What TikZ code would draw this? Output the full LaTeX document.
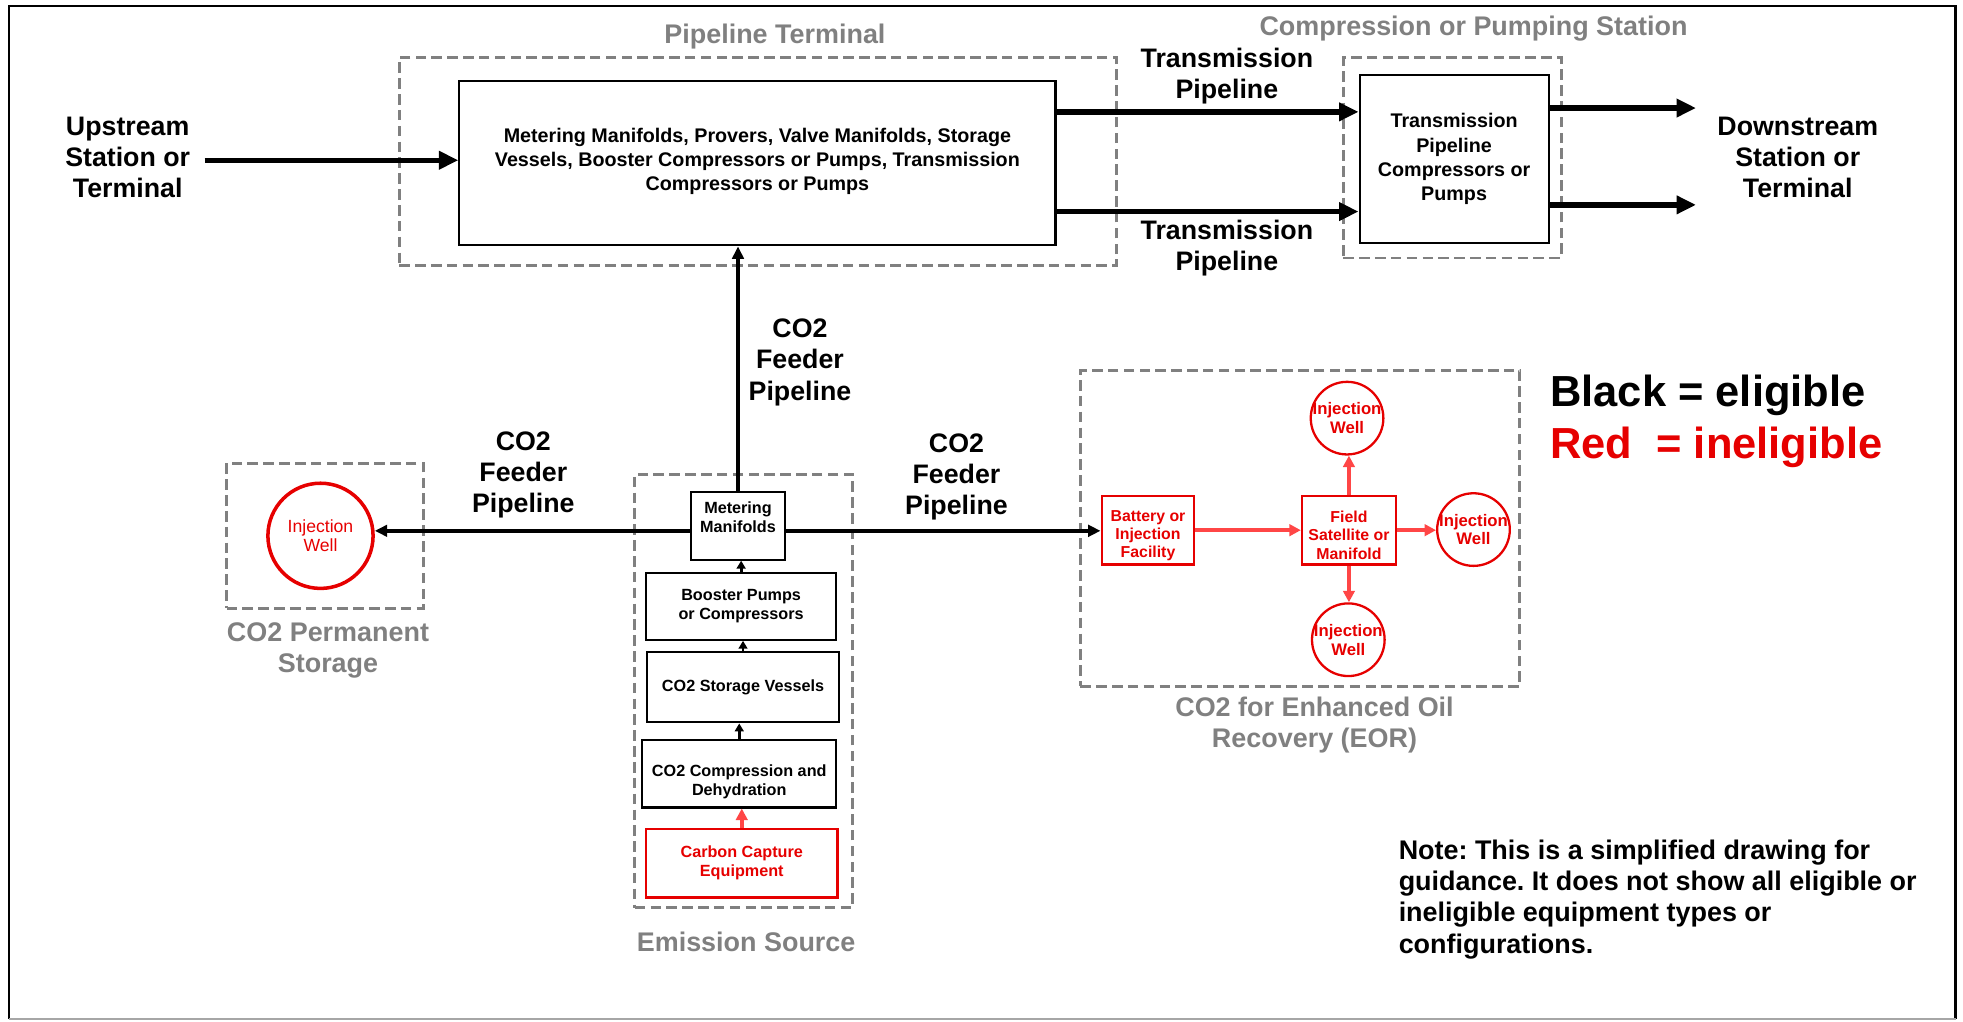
\documentclass[tikz,border=0pt]{standalone}
\usepackage{fontspec}
\setmainfont{Liberation Sans}
\usetikzlibrary{arrows.meta,calc}

\definecolor{grayline}{RGB}{128,128,128}
\definecolor{ineligred}{RGB}{230,0,0}
\definecolor{redarrowc}{RGB}{255,70,70}

\begin{document}
\frenchspacing
\begin{tikzpicture}[x=0.025cm, y=-0.025cm,
  box/.style={draw, line width=1.2pt, align=center, inner sep=1pt},
  redbox/.style={box, draw=ineligred, text=ineligred, line width=1.3pt},
  groupbox/.style={draw=grayline, line width=1.6pt, dash pattern=on 6pt off 3pt},
  grouptitle/.style={text=grayline, align=center, inner sep=2pt, font=\fontsize{15.3}{17.7}\selectfont\bfseries},
  flowtext/.style={align=center, inner sep=2pt, font=\fontsize{15.2}{17.7}\selectfont\bfseries},
  smalltext/.style={font=\fontsize{9.2}{10.8}\selectfont\bfseries},
  eortext/.style={font=\fontsize{9}{10.3}\selectfont\bfseries},
  well/.style={circle, draw=ineligred, text=ineligred, line width=1.3pt, align=center, inner sep=-2pt, minimum size=1.45cm, font=\fontsize{9.5}{10.6}\selectfont\bfseries},
  mainarrow/.style={-{Triangle[length=11pt,width=10pt]}, line width=3pt},
  feedarrow/.style={-{Triangle[length=7pt,width=6.5pt]}, line width=2pt},
  steparrow/.style={-{Triangle[length=4.5pt,width=5pt]}, line width=1.6pt},
  redarrow/.style={-{Triangle[length=6.5pt,width=6.5pt]}, line width=2pt, draw=redarrowc},
]
\useasboundingbox (0,0) rectangle (1568,816);

% Frame
\draw[line width=1.3pt] (7,814) -- (7,5) -- (1562,5) -- (1562,814);
\draw[line width=1pt, black!35] (7,814) -- (1562,814);

% Pipeline terminal
\node[groupbox, minimum width=14.325cm, minimum height=4.15cm] (termgroup) at (605.5,129) {};
\node[grouptitle] (termtitle) at (619,29) {Pipeline Terminal};
\node[box, minimum width=11.9cm, minimum height=3.275cm, font=\fontsize{11.2}{13.8}\selectfont\bfseries] (termbox) at (605,130.5) {
  Metering Manifolds, Provers, Valve Manifolds, Storage\\
  Vessels, Booster Compressors or Pumps, Transmission\\
  Compressors or Pumps\\[-9pt]};

% Compression or pumping station
\node[groupbox, minimum width=4.35cm, minimum height=4cm] (compgroup) at (1160,126) {};
\node[grouptitle] (comptitle) at (1177,23) {Compression or Pumping Station};
\node[box, minimum width=3.775cm, minimum height=3.35cm, font=\fontsize{11.2}{13.7}\selectfont\bfseries] (compbox) at (1161.5,127) {Transmission\\Pipeline\\Compressors or\\Pumps};

% Upstream / downstream
\node[flowtext] (upstream) at (102,126) {Upstream\\Station or\\Terminal};
\node[flowtext] (downstream) at (1436,126) {Downstream\\Station or\\Terminal};
\node[flowtext] (translabA) at (980,61) {Transmission\\Pipeline};
\node[flowtext] (translabB) at (980,198) {Transmission\\Pipeline};

% Emission source
\node[groupbox, minimum width=4.35cm, minimum height=8.65cm] (emisgroup) at (594,552) {};
\node[grouptitle] (emistitle) at (596,752) {Emission Source};
\node[box, smalltext, minimum width=1.875cm, minimum height=1.35cm] (meter) at (589.5,420) {Metering\\Manifolds\\[-1pt]};
\node[box, smalltext, minimum width=3.8cm, minimum height=1.325cm] (booster) at (592,484.5) {Booster Pumps\\or Compressors};
\node[box, smalltext, minimum width=3.825cm, minimum height=1.4cm] (storage) at (593.5,549) {CO2 Storage Vessels};
\node[box, smalltext, minimum width=3.875cm, minimum height=1.35cm] (compress) at (590.5,618) {\\[5pt]CO2 Compression and\\Dehydration};
\node[redbox, smalltext, minimum width=3.825cm, minimum height=1.375cm] (capture) at (592.5,689.5) {Carbon Capture\\Equipment};

% CO2 permanent storage
\node[groupbox, minimum width=3.925cm, minimum height=2.9cm] (storegroup) at (259.5,428) {};
\node[grouptitle] (storetitle) at (262,519.5) {CO2 Permanent\\Storage};
\node[well, line width=2pt, minimum size=2.1cm, font=\fontsize{10}{10.6}\selectfont] (storewell) at (256,428) {Injection\\Well};

% Enhanced oil recovery
\node[groupbox, minimum width=8.775cm, minimum height=6.3cm] (eorgroup) at (1038.5,422) {};
\node[grouptitle] (eortitle) at (1050,579) {CO2 for Enhanced Oil\\Recovery (EOR)};
\node[redbox, eortext, minimum width=1.85cm, minimum height=1.375cm] (battery) at (917,423.5) {\\[2pt]Battery or\\Injection\\Facility};
\node[redbox, eortext, minimum width=1.875cm, minimum height=1.375cm] (field) at (1077.5,423.5) {\\[2pt]Field\\Satellite or\\Manifold};
\node[well] (wellN) at (1076,334) {Injection\\Well};
\node[well] (wellE) at (1177,423) {Injection\\Well};
\node[well] (wellS) at (1077,511) {Injection\\Well};

% Feeder labels
\node[flowtext] (feedUp) at (639,289.5) {CO2\\Feeder\\Pipeline};
\node[flowtext] (feedLeft) at (418,379.5) {CO2\\Feeder\\Pipeline};
\node[flowtext] (feedRight) at (764,381) {CO2\\Feeder\\Pipeline};

% Legend and note
\node[anchor=base west, inner sep=0pt, font=\fontsize{24.7}{28}\selectfont\bfseries] (legBlack) at (1238,325) {Black = eligible};
\node[anchor=base west, inner sep=0pt, text=ineligred, font=\fontsize{24.7}{28}\selectfont\bfseries] (legRed) at (1238,366) {Red~ = ineligible};
\node[anchor=west, align=left, inner sep=0pt, font=\fontsize{15.3}{17.7}\selectfont\bfseries] (note) at (1117,718.5) {Note: This is a simplified drawing for\\guidance. It does not show all eligible or\\ineligible equipment types or\\configurations.};

% Points on the box sides
\coordinate (tpA) at ($(termbox.north east)!0.19!(termbox.south east)$);
\coordinate (tpB) at ($(termbox.north east)!0.79!(termbox.south east)$);
\coordinate (cpA) at ($(compbox.north east)!0.2!(compbox.south east)$);
\coordinate (cpB) at ($(compbox.north east)!0.77!(compbox.south east)$);
\coordinate (mWest) at ([yshift=-0.1cm]meter.west);
\coordinate (mEast) at ([yshift=-0.1cm]meter.east);

% Main arrows
\draw[mainarrow, shorten <=6pt] ([yshift=-0.05cm]upstream.east) -- ([yshift=-0.05cm]upstream.east -| termbox.west);
\draw[mainarrow] (tpA) -- (tpA -| compbox.west);
\draw[mainarrow] (tpB) -- (tpB -| compbox.west);
\draw[mainarrow, shorten >=10pt] (cpA) -- (cpA -| downstream.west);
\draw[mainarrow, shorten >=10pt] (cpB) -- (cpB -| downstream.west);

% Feeder pipelines
\draw[feedarrow] (meter.north) -- (meter.north |- termbox.south);
\draw[feedarrow] (mWest) -- (mWest -| storewell.east);
\draw[feedarrow] (mEast) -- (mEast -| battery.west);

% Emission source steps
\draw[steparrow] (booster.north) -- (booster.north |- meter.south);
\draw[steparrow] (storage.north) -- (storage.north |- booster.south);
\draw[steparrow] (compress.north) -- (compress.north |- storage.south);
\draw[redarrow] (capture.north) -- (capture.north |- compress.south);

% EOR arrows
\draw[redarrow] (battery.east) -- (battery.east -| field.west);
\draw[redarrow] (field.north) -- (field.north |- wellN.south);
\draw[redarrow] (field.east) -- (field.east -| wellE.west);
\draw[redarrow] (field.south) -- (field.south |- wellS.north);
\end{tikzpicture}
\end{document}
